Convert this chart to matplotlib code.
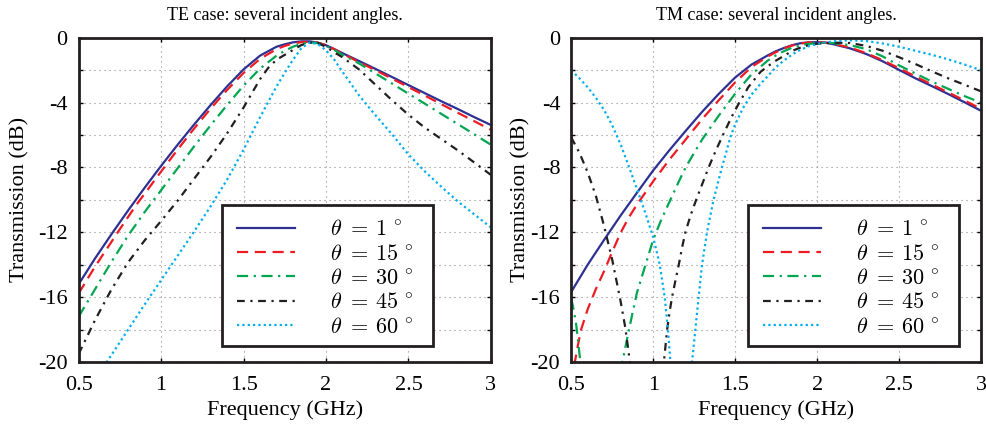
import numpy as np
import matplotlib
matplotlib.use("Agg")
import matplotlib.pyplot as plt
from matplotlib.patches import Rectangle

nan = np.nan

# ---- TE case, values (GHz, dB) ----
te_f1 = [0.5, 0.6, 0.7, 0.8, 0.9, 1.0, 1.1, 1.2, 1.3, 1.4, 1.5, 1.6, 1.7, 1.75, 1.8, 1.85, 1.9, 1.95,
         2.0, 2.05, 2.1, 2.2, 2.3, 2.4, 2.5, 2.6, 2.7, 2.8, 2.9, 3.0]
te_db1 = [-15.2, -13.6, -12.1, -10.65, -9.25, -7.9, -6.6, -5.35, -4.15, -3.0, -1.95, -1.1, -0.55, -0.4,
          -0.28, -0.22, -0.22, -0.3, -0.46, -0.7, -0.95, -1.43, -1.92, -2.42, -2.92, -3.42, -3.92,
          -4.4, -4.9, -5.38]

te_f15 = [0.5, 0.6, 0.7, 0.75, 0.8, 0.85, 0.9, 1.0, 1.1, 1.2, 1.3, 1.4, 1.5, 1.6, 1.7, 1.75, 1.8, 1.85,
          1.9, 1.95, 2.0, 2.05, 2.1, 2.2, 2.3, 2.4, 2.5, 2.6, 2.7, 2.8, 2.9, 3.0]
te_db15 = [-15.77, -14.1, -12.57, -11.8, -11.05, -10.3, -9.62, -8.25, -6.9, -5.6, -4.37, -3.22, -2.17,
           -1.3, -0.7, -0.5, -0.35, -0.27, -0.24, -0.3, -0.46, -0.7, -0.98, -1.5, -2.0, -2.52, -3.04,
           -3.57, -4.1, -4.63, -5.15, -5.68]

te_f30 = [0.5, 0.6, 0.7, 0.8, 0.9, 1.0, 1.1, 1.2, 1.3, 1.4, 1.5, 1.6, 1.7, 1.75, 1.8, 1.85, 1.9, 1.95,
          2.0, 2.05, 2.1, 2.2, 2.3, 2.4, 2.5, 2.6, 2.7, 2.8, 2.9, 3.0]
te_db30 = [-17.2, -15.5, -13.8, -12.2, -10.75, -9.4, -8.05, -6.7, -5.4, -4.15, -2.95, -1.9, -1.1, -0.8,
           -0.55, -0.37, -0.28, -0.33, -0.5, -0.75, -1.05, -1.58, -2.2, -2.82, -3.45, -4.07, -4.7,
           -5.33, -5.96, -6.6]

te_f45 = [0.5, 0.6, 0.7, 0.8, 0.9, 1.0, 1.1, 1.2, 1.3, 1.4, 1.5, 1.6, 1.65, 1.7, 1.75, 1.8, 1.85, 1.9,
          1.95, 2.0, 2.05, 2.1, 2.2, 2.3, 2.4, 2.5, 2.6, 2.7, 2.8, 2.9, 3.0]
te_db45 = [-19.5, -17.4, -15.5, -13.85, -12.5, -11.3, -10.05, -8.7, -7.35, -5.9, -4.3, -2.55, -1.85,
           -1.35, -1.05, -0.75, -0.45, -0.3, -0.32, -0.56, -0.9, -1.2, -1.95, -2.9, -3.85, -4.75,
           -5.55, -6.25, -6.95, -7.7, -8.46]

te_f60 = [0.65, 0.7, 0.8, 0.9, 1.0, 1.1, 1.2, 1.3, 1.4, 1.5, 1.6, 1.7, 1.75, 1.8, 1.85, 1.9, 1.95, 2.0,
          2.05, 2.1, 2.2, 2.3, 2.4, 2.5, 2.6, 2.7, 2.8, 2.9, 3.0]
te_db60 = [-20.3, -19.55, -18.0, -16.45, -14.95, -13.45, -11.95, -10.4, -8.75, -6.9, -4.9, -3.0, -2.15,
           -1.35, -0.65, -0.3, -0.38, -0.77, -1.35, -2.1, -3.55, -4.78, -5.95, -7.2, -8.25, -9.2,
           -10.1, -10.9, -11.7]

# ---- TM case ----
tm_f1 = [0.5, 0.6, 0.7, 0.8, 0.9, 1.0, 1.1, 1.2, 1.3, 1.4, 1.5, 1.6, 1.7, 1.75, 1.8, 1.85, 1.9, 1.95,
         2.0, 2.05, 2.1, 2.2, 2.3, 2.4, 2.5, 2.6, 2.7, 2.8, 2.9, 3.0]
tm_db1 = [-15.67, -14.0, -12.47, -10.98, -9.57, -8.18, -6.92, -5.72, -4.55, -3.46, -2.45, -1.65, -1.08,
          -0.82, -0.62, -0.45, -0.33, -0.28, -0.27, -0.3, -0.4, -0.65, -1.0, -1.45, -1.98, -2.5,
          -2.98, -3.47, -3.98, -4.5]

tm_f15 = [0.5, 0.52, 0.54, 0.56, 0.6, 0.65, 0.7, 0.75, 0.8, 0.85, 0.9, 1.0, 1.1, 1.2, 1.3, 1.4, 1.5,
          1.6, 1.7, 1.75, 1.8, 1.85, 1.9, 1.95, 2.0, 2.05, 2.1, 2.2, 2.3, 2.4, 2.5, 2.6, 2.7, 2.8,
          2.9, 3.0]
tm_db15 = [-21.3, -20.1, -19.0, -18.0, -16.75, -15.5, -14.4, -13.2, -12.05, -11.1, -10.3, -8.85, -7.5,
           -6.25, -5.0, -3.85, -2.75, -1.8, -1.15, -0.88, -0.65, -0.47, -0.35, -0.29, -0.27, -0.29,
           -0.37, -0.6, -0.95, -1.38, -1.88, -2.38, -2.88, -3.37, -3.87, -4.38]

# NaN splits the branches that dip below -20 dB
tm_f30 = [0.5, 0.515, 0.53, 0.545, 0.555, 0.56, nan, 0.8, 0.812, 0.85, 0.9, 0.95, 1.0, 1.05, 1.1, 1.15,
          1.2, 1.3, 1.4, 1.5, 1.6, 1.7, 1.77, 1.85, 1.93, 2.03, 2.1, 2.2, 2.3, 2.4, 2.5, 2.6, 2.7,
          2.8, 2.9, 3.0]
tm_db30 = [-16.1, -16.8, -17.7, -19.0, -20.0, -20.6, nan, -20.6, -20.0, -18.1, -15.75, -14.1, -12.45,
           -11.2, -10.1, -9.0, -7.95, -6.25, -4.8, -3.45, -2.25, -1.4, -0.95, -0.6, -0.4, -0.3,
           -0.33, -0.45, -0.7, -1.15, -1.7, -2.2, -2.7, -3.15, -3.6, -4.0]

tm_f45 = [0.5, 0.55, 0.6, 0.65, 0.7, 0.75, 0.8, 0.83, 0.85, 0.86, 0.865, nan, 1.06, 1.065, 1.085, 1.1,
          1.115, 1.135, 1.156, 1.175, 1.196, 1.23, 1.262, 1.3, 1.338, 1.38, 1.43, 1.48, 1.525, 1.58,
          1.655, 1.7, 1.75, 1.8, 1.85, 1.9, 1.95, 2.0, 2.09, 2.2, 2.3, 2.4, 2.5, 2.6, 2.7, 2.8, 2.9,
          3.0]
tm_db45 = [-6.15, -7.1, -8.3, -9.75, -11.6, -13.7, -16.2, -17.9, -19.4, -20.3, -21.0, nan, -20.6, -20.0,
           -18.0, -16.9, -16.0, -15.0, -14.0, -13.0, -12.0, -10.9, -10.0, -9.0, -8.0, -7.0, -5.9,
           -4.85, -4.0, -3.05, -2.1, -1.75, -1.4, -1.1, -0.8, -0.6, -0.45, -0.37, -0.3, -0.32, -0.5,
           -0.8, -1.2, -1.62, -2.07, -2.5, -2.9, -3.3]

tm_f60 = [0.5, 0.55, 0.6, 0.65, 0.7, 0.75, 0.8, 0.85, 0.9, 0.95, 1.0, 1.04, 1.07, 1.09, 1.105, 1.11,
          nan, 1.23, 1.237, 1.257, 1.277, 1.298, 1.328, 1.368, 1.419, 1.475, 1.5, 1.55, 1.6, 1.65,
          1.7, 1.75, 1.8, 1.85, 1.9, 1.95, 2.0, 2.05, 2.1, 2.2, 2.3, 2.4, 2.5, 2.6, 2.7, 2.8, 2.9,
          3.0]
tm_db60 = [-2.0, -2.5, -3.05, -3.7, -4.45, -5.4, -6.55, -7.9, -9.3, -10.75, -12.3, -14.0, -16.0, -18.0,
           -20.0, -21.0, nan, -20.7, -20.0, -18.0, -16.0, -14.0, -12.0, -10.0, -8.0, -6.0, -5.35,
           -4.3, -3.5, -2.9, -2.35, -1.8, -1.38, -1.02, -0.73, -0.52, -0.38, -0.29, -0.22, -0.15,
           -0.2, -0.35, -0.55, -0.8, -1.05, -1.33, -1.65, -2.0]

angles = [1, 15, 30, 45, 60]
xticks = [0.5, 1, 1.5, 2, 2.5, 3]
xticklabels = ["0.5", "1", "1.5", "2", "2.5", "3"]
yticks = list(range(-20, 1, 2))

colors = ["#2e3192", "#ed1c24", "#00a651", "#231f20", "#00aeef"]
styles = ["-", (0, (5, 3)), (0, (5, 2.5, 1, 2.5)), (0, (3.5, 2.5, 1, 2.5)), (0, (1, 1.4))]

plt.rcParams["font.family"] = ["Liberation Serif", "DejaVu Serif"]
plt.rcParams["mathtext.fontset"] = "cm"

fig = plt.figure(figsize=(9.87, 4.26), dpi=100)
ax_te = fig.add_axes([0.0797, 0.1502, 0.4177, 0.7611])
ax_tm = fig.add_axes([0.5788, 0.1502, 0.4151, 0.7611])

# legend box (axes fraction: x0, y0, width, height) and y-label x position
panels = [
    (ax_te, "TE case: several incident angles.",
     [(te_f1, te_db1), (te_f15, te_db15), (te_f30, te_db30), (te_f45, te_db45), (te_f60, te_db60)],
     (0.3476, 0.0494, 0.5118, 0.4349), -0.12),
    (ax_tm, "TM case: several incident angles.",
     [(tm_f1, tm_db1), (tm_f15, tm_db15), (tm_f30, tm_db30), (tm_f45, tm_db45), (tm_f60, tm_db60)],
     (0.432, 0.0494, 0.515, 0.4349), -0.099),
]

for ax, title, curves, box, ylab_x in panels:
    for (f, db), ang, c, ls in zip(curves, angles, colors, styles):
        ax.plot(f, db, color=c, linestyle=ls, lw=1.6,
                label=r"$\theta\ =\,%d\,^\circ$" % ang)
    ax.set_xlim(0.5, 3)
    ax.set_ylim(-20, 0)
    ax.set_xticks(xticks)
    ax.set_xticklabels(xticklabels)
    ax.set_yticks(yticks)
    ax.set_yticklabels([str(v) if v % 4 == 0 else "" for v in yticks])
    ax.grid(True, color="#8a8a8a", linestyle=(0, (1, 3.5)), lw=0.8)
    ax.tick_params(direction="in", top=True, right=True, length=3, width=1, labelsize=16)
    ax.tick_params(axis="x", pad=10)
    ax.tick_params(axis="y", pad=8)
    for sp in ax.spines.values():
        sp.set_linewidth(2)
        sp.set_color("#231f20")
    ax.set_title(title, fontsize=13, pad=12.5)
    ax.set_xlabel("Frequency (GHz)", fontsize=16, labelpad=4)
    ax.set_ylabel("Transmission (dB)", fontsize=16)
    ax.yaxis.set_label_coords(ylab_x, 0.5)

    x0, y0, w, h = box
    ax.add_patch(Rectangle((x0, y0), w, h, transform=ax.transAxes, facecolor="white",
                           edgecolor="#231f20", lw=2, zorder=4.9))
    ax.legend(loc="upper left", bbox_to_anchor=(x0, y0 + h), borderaxespad=0,
              fontsize=16, handlelength=2.6, handletextpad=1.6, labelspacing=0.17,
              borderpad=0.67, frameon=False)

fig.savefig("out.png", dpi=100)
